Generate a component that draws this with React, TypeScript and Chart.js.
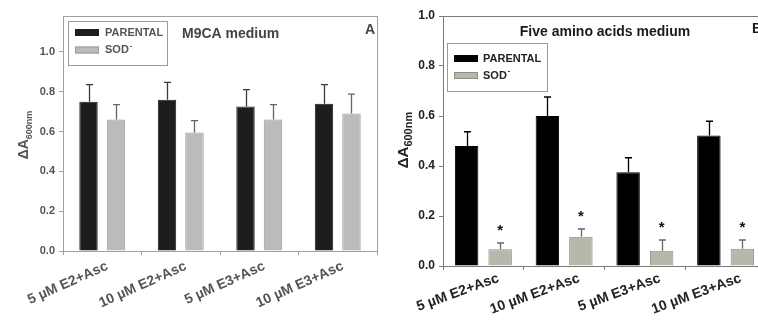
import React, { useEffect, useRef } from "react";
import { Chart, registerables } from "chart.js";

Chart.register(...registerables);

// ---------- data ----------
const CATEGORIES = ["5 µM E2+Asc", "10 µM E2+Asc", "5 µM E3+Asc", "10 µM E3+Asc"];
const Y_TICKS = [0, 0.2, 0.4, 0.6, 0.8, 1.0];

// Panel A: M9CA medium
const A_PARENTAL = [0.75, 0.76, 0.725, 0.74];
const A_PARENTAL_ERR = [0.085, 0.087, 0.085, 0.095];
const A_SOD = [0.66, 0.595, 0.66, 0.69];
const A_SOD_ERR = [0.075, 0.06, 0.075, 0.098];

// Panel B: Five amino acids medium
const B_PARENTAL = [0.48, 0.6, 0.375, 0.522];
const B_PARENTAL_ERR = [0.057, 0.076, 0.058, 0.057];
const B_SOD = [0.067, 0.117, 0.061, 0.069];
const B_SOD_ERR = [0.025, 0.031, 0.043, 0.035];
const B_SOD_STARS = [true, true, true, true];

type PanelCfg = {
  width: number;
  height: number;
  yMax: number;
  yAxisWidth: number;
  xAxisHeight: number;
  padTop: number;
  padRight: number;
  parental: number[];
  parentalErr: number[];
  sod: number[];
  sodErr: number[];
  stars: boolean[] | null;
  title: string;
  titleX: number;
  titleY: number;
  titleAlign: CanvasTextAlign;
  letter: string;
  letterX: number;
  letterY: number;
  legend: { x: number; y: number; w: number; h: number; swX: number; row1: number; row2: number; textX: number };
  ylab: { x: number; y: number; big: number; small: number };
  darkColor: string;
  greyColor: string;
  greyBorder: string;
  axisColor: string;
  textColor: string;
  tickFont: number;
  xFont: number;
  rotation: number;
  labelOffset: number;
  labelPad: number;
  barPct: number;
  catPct: number;
};

const PANEL_A: PanelCfg = {
  width: 380,
  height: 320,
  yMax: 1.18,
  yAxisWidth: 63,
  xAxisHeight: 69,
  padTop: 16,
  padRight: 3,
  parental: A_PARENTAL,
  parentalErr: A_PARENTAL_ERR,
  sod: A_SOD,
  sodErr: A_SOD_ERR,
  stars: null,
  title: "M9CA medium",
  titleX: 182,
  titleY: 34,
  titleAlign: "left",
  letter: "A",
  letterX: 365,
  letterY: 30,
  legend: { x: 68.5, y: 21.5, w: 99, h: 44, swX: 75, row1: 32.5, row2: 50, textX: 105 },
  ylab: { x: 28, y: 135, big: 14, small: 9 },
  darkColor: "#1e1c1d",
  greyColor: "#b9bbbc",
  greyBorder: "#9a9c9d",
  axisColor: "#a0a0a0",
  textColor: "#555555",
  tickFont: 11,
  xFont: 14,
  rotation: 24,
  labelOffset: 5,
  labelPad: 3,
  barPct: 0.67,
  catPct: 0.7,
};

const PANEL_B: PanelCfg = {
  width: 392,
  height: 320,
  yMax: 1.0,
  yAxisWidth: 63,
  xAxisHeight: 54,
  padTop: 16,
  padRight: 6,
  parental: B_PARENTAL,
  parentalErr: B_PARENTAL_ERR,
  sod: B_SOD,
  sodErr: B_SOD_ERR,
  stars: B_SOD_STARS,
  title: "Five amino acids medium",
  titleX: 225,
  titleY: 32,
  titleAlign: "center",
  letter: "B",
  letterX: 372,
  letterY: 29,
  legend: { x: 67.5, y: 43.5, w: 100, h: 48, swX: 74, row1: 58.5, row2: 75.5, textX: 103 },
  ylab: { x: 28, y: 140, big: 15, small: 11 },
  darkColor: "#000000",
  greyColor: "#b7b8ab",
  greyBorder: "#8e8f86",
  axisColor: "#7a7a7a",
  textColor: "#222222",
  tickFont: 12,
  xFont: 14,
  rotation: 20,
  labelOffset: 15,
  labelPad: 0,
  barPct: 0.7,
  catPct: 0.83,
};

const FONT = "'Liberation Sans', Arial, sans-serif";

function makeChart(canvas: HTMLCanvasElement, p: PanelCfg) {
  const decor = {
    id: "decor",
    afterDatasetsDraw(chart: any) {
      const ctx = chart.ctx as CanvasRenderingContext2D;
      const y = chart.scales.y;
      const area = chart.chartArea;
      ctx.save();
      // frame box
      ctx.strokeStyle = p.axisColor;
      ctx.lineWidth = 1;
      ctx.strokeRect(Math.round(area.left) + 0.5, Math.round(area.top) + 0.5, area.right - area.left, area.bottom - area.top);
      // error bars
      const errs = [p.parentalErr, p.sodErr];
      const vals = [p.parental, p.sod];
      const errColors = [p.darkColor === "#000000" ? "#000" : "#3a3a3a", "#666"];
      for (let d = 0; d < 2; d++) {
        const meta = chart.getDatasetMeta(d);
        meta.data.forEach((el: any, j: number) => {
          const top = y.getPixelForValue(vals[d][j]);
          const et = y.getPixelForValue(vals[d][j] + errs[d][j]);
          const x = Math.round(el.x) + 0.5;
          ctx.strokeStyle = errColors[d];
          ctx.lineWidth = 1.3;
          ctx.beginPath();
          ctx.moveTo(x, top);
          ctx.lineTo(x, et);
          ctx.moveTo(x - 3.5, et);
          ctx.lineTo(x + 3.5, et);
          ctx.stroke();
          if (d === 1 && p.stars && p.stars[j]) {
            ctx.fillStyle = "#111";
            ctx.font = `bold 15px ${FONT}`;
            ctx.textAlign = "center";
            ctx.textBaseline = "alphabetic";
            ctx.fillText("*", el.x, et - 8);
          }
        });
      }
      ctx.restore();
    },
    afterDraw(chart: any) {
      const ctx = chart.ctx as CanvasRenderingContext2D;
      ctx.save();
      // title
      ctx.fillStyle = p.textColor === "#555555" ? "#444" : "#1a1a1a";
      ctx.font = `bold 14px ${FONT}`;
      ctx.textBaseline = "middle";
      ctx.textAlign = p.titleAlign;
      ctx.fillText(p.title, p.titleX, p.titleY);
      ctx.textAlign = "left";
      ctx.fillText(p.letter, p.letterX, p.letterY);
      // legend
      const L = p.legend;
      ctx.strokeStyle = "#9a9a9a";
      ctx.lineWidth = 1;
      ctx.strokeRect(L.x, L.y, L.w, L.h);
      ctx.fillStyle = p.darkColor;
      ctx.fillRect(L.swX, L.row1 - 3.5, 24, 7);
      ctx.fillStyle = p.greyColor;
      ctx.fillRect(L.swX, L.row2 - 3.5, 24, 7);
      ctx.strokeStyle = p.greyBorder;
      ctx.strokeRect(L.swX + 0.5, L.row2 - 3.5 + 0.5, 23, 6);
      ctx.fillStyle = p.textColor;
      ctx.font = `bold 11px ${FONT}`;
      ctx.textBaseline = "middle";
      ctx.fillText("PARENTAL", L.textX, L.row1);
      ctx.fillText("SOD", L.textX, L.row2);
      const sw = ctx.measureText("SOD").width;
      ctx.font = `bold 7px ${FONT}`;
      ctx.fillText("-", L.textX + sw + 1, L.row2 - 4);
      // y axis label with subscript
      const Y = p.ylab;
      ctx.translate(Y.x, Y.y);
      ctx.rotate(-Math.PI / 2);
      ctx.font = `bold ${Y.big}px ${FONT}`;
      const w1 = ctx.measureText("ΔA").width;
      ctx.font = `bold ${Y.small}px ${FONT}`;
      const w2 = ctx.measureText("600nm").width;
      const start = -(w1 + w2) / 2;
      ctx.textAlign = "left";
      ctx.textBaseline = "alphabetic";
      ctx.font = `bold ${Y.big}px ${FONT}`;
      ctx.fillStyle = p.textColor;
      ctx.fillText("ΔA", start, 0);
      ctx.font = `bold ${Y.small}px ${FONT}`;
      ctx.fillText("600nm", start + w1, 4);
      ctx.restore();
    },
  };

  return new Chart(canvas, {
    type: "bar",
    data: {
      labels: CATEGORIES,
      datasets: [
        {
          label: "PARENTAL",
          data: p.parental,
          backgroundColor: p.darkColor,
          borderColor: p.darkColor,
          borderWidth: 1,
          barPercentage: p.barPct,
          categoryPercentage: p.catPct,
        },
        {
          label: "SOD-",
          data: p.sod,
          backgroundColor: p.greyColor,
          borderColor: p.greyBorder,
          borderWidth: 1,
          barPercentage: p.barPct,
          categoryPercentage: p.catPct,
        },
      ],
    },
    options: {
      responsive: false,
      animation: false,
      devicePixelRatio: 1,
      layout: { padding: { top: p.padTop, right: p.padRight, left: 0, bottom: 0 } },
      plugins: { legend: { display: false }, tooltip: { enabled: false }, title: { display: false } },
      scales: {
        x: {
          grid: { display: true, drawOnChartArea: false, tickLength: 4, color: p.axisColor },
          border: { color: p.axisColor },
          ticks: {
            color: p.textColor,
            font: { family: FONT, size: p.xFont, weight: "bold" },
            minRotation: p.rotation,
            maxRotation: p.rotation,
            padding: p.labelPad,
            labelOffset: p.labelOffset,
            autoSkip: false,
          },
          afterFit(scale: any) {
            scale.height = p.xAxisHeight;
            scale.paddingLeft = 0;
            scale.paddingRight = 0;
          },
        },
        y: {
          min: 0,
          max: p.yMax,
          grid: { display: true, drawOnChartArea: false, tickLength: 4, color: p.axisColor },
          border: { color: p.axisColor },
          ticks: {
            color: p.textColor,
            font: { family: FONT, size: p.tickFont, weight: "bold" },
            padding: 4,
            callback: (v: any) => Number(v).toFixed(1),
          },
          afterBuildTicks(scale: any) {
            scale.ticks = Y_TICKS.map((v) => ({ value: v }));
          },
          afterFit(scale: any) {
            scale.width = p.yAxisWidth;
            scale.paddingTop = 0;
            scale.paddingBottom = 0;
          },
        },
      },
    },
    plugins: [decor],
  } as any);
}

function Panel({ cfg, left }: { cfg: PanelCfg; left: number }) {
  const ref = useRef<HTMLCanvasElement | null>(null);
  useEffect(() => {
    if (!ref.current) return;
    const c = makeChart(ref.current, cfg);
    return () => c.destroy();
  }, [cfg]);
  return (
    <canvas
      ref={ref}
      width={cfg.width}
      height={cfg.height}
      style={{ position: "absolute", left, top: 0, width: cfg.width, height: cfg.height }}
    />
  );
}

export default function App() {
  return (
    <div
      style={{
        position: "absolute",
        left: 0,
        top: 0,
        width: 758,
        height: 320,
        overflow: "hidden",
        background: "#fff",
      }}
    >
      <Panel cfg={PANEL_A} left={0} />
      <Panel cfg={PANEL_B} left={380} />
    </div>
  );
}
